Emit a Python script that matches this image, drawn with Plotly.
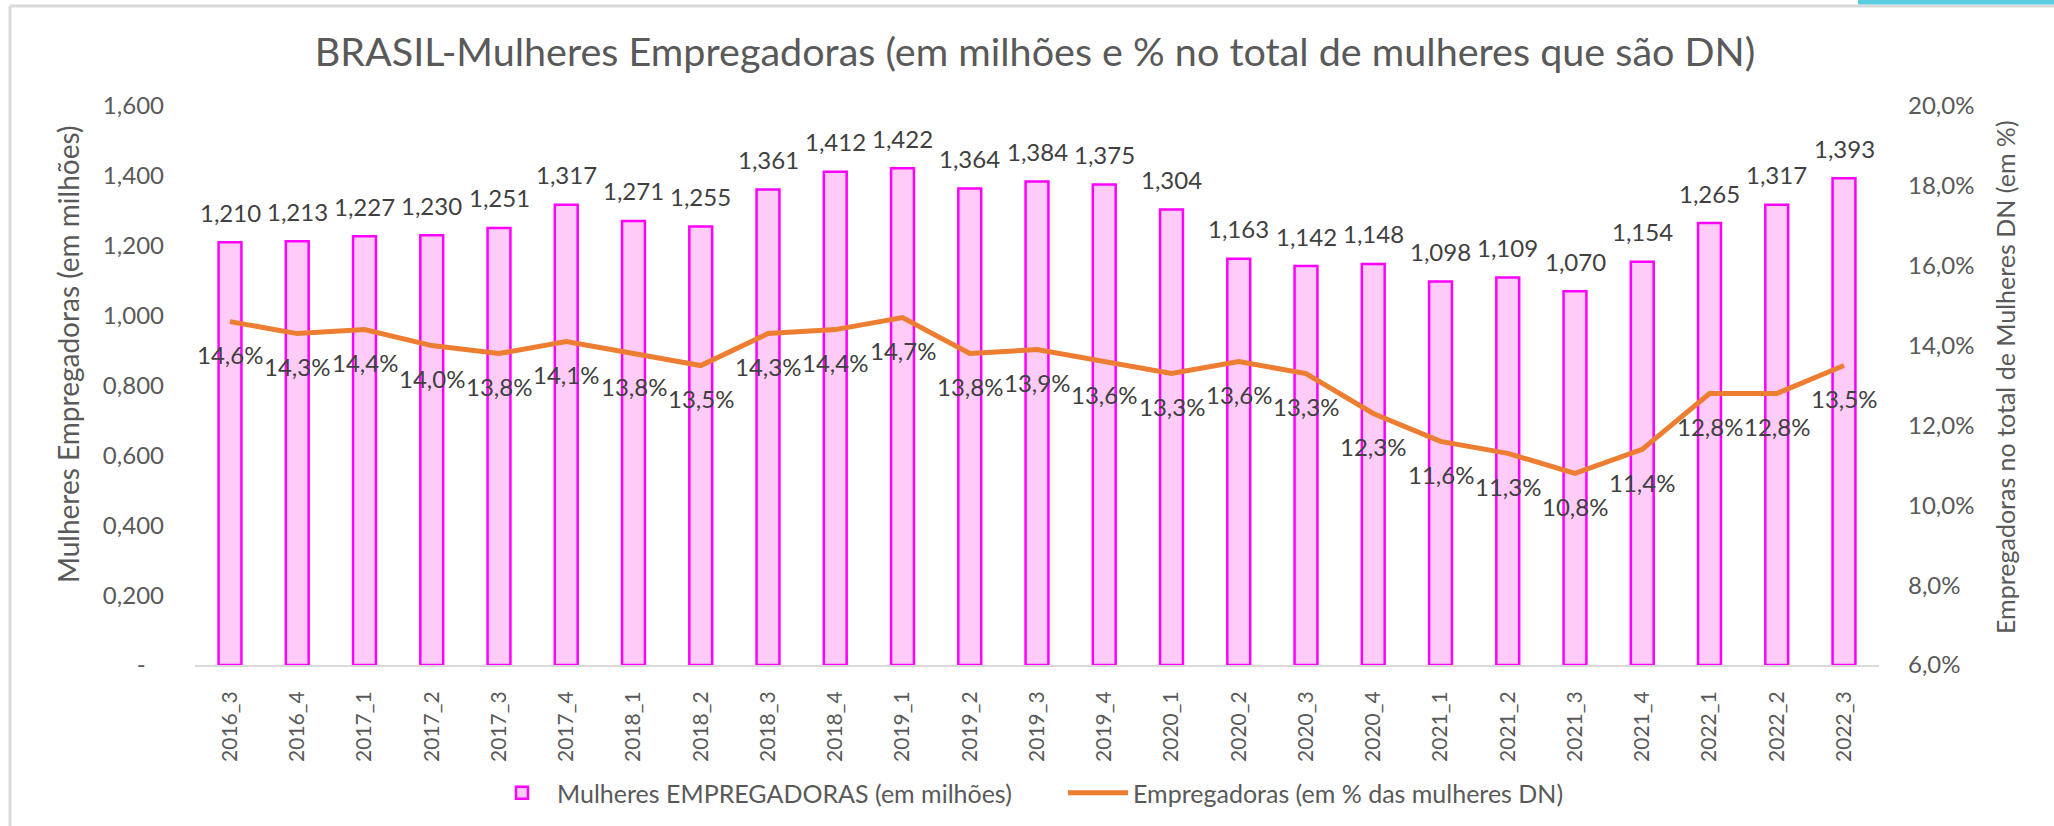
import plotly.graph_objects as go

categories = ["2016_3", "2016_4", "2017_1", "2017_2", "2017_3", "2017_4", "2018_1", "2018_2",
              "2018_3", "2018_4", "2019_1", "2019_2", "2019_3", "2019_4", "2020_1", "2020_2",
              "2020_3", "2020_4", "2021_1", "2021_2", "2021_3", "2021_4", "2022_1", "2022_2", "2022_3"]
empregadoras_milhoes = [1.210, 1.213, 1.227, 1.230, 1.251, 1.317, 1.271, 1.255, 1.361, 1.412, 1.422,
                        1.364, 1.384, 1.375, 1.304, 1.163, 1.142, 1.148, 1.098, 1.109, 1.070, 1.154,
                        1.265, 1.317, 1.393]
empregadoras_pct = [14.6, 14.3, 14.4, 14.0, 13.8, 14.1, 13.8, 13.5, 14.3, 14.4, 14.7, 13.8, 13.9,
                    13.6, 13.3, 13.6, 13.3, 12.3, 11.6, 11.3, 10.8, 11.4, 12.8, 12.8, 13.5]
left_ticks = [0, 0.2, 0.4, 0.6, 0.8, 1.0, 1.2, 1.4, 1.6]
right_ticks = [6, 8, 10, 12, 14, 16, 18, 20]

title_text = "BRASIL-Mulheres Empregadoras (em milhões e % no total de mulheres que são DN)"
bar_name = "Mulheres EMPREGADORAS (em milhões)"
line_name = "Empregadoras (em % das mulheres DN)"
left_title = "Mulheres Empregadoras (em milhões)"
right_title = "Empregadoras no total de Mulheres DN (em %)"

FONT = "Lato"
GREY = "#595959"
DARK = "#404040"

def fmt_m(v):
    return "-\u00a0\u00a0\u00a0" if v == 0 else f"{v:.3f}".replace(".", ",")

def fmt_p(v):
    return f"{v:.1f}%".replace(".", ",")

fig = go.Figure()
fig.add_trace(go.Bar(
    x=categories, y=empregadoras_milhoes, name=bar_name,
    marker=dict(color="#FFCCF7", line=dict(color="#FF00FF", width=2.5)),
    width=0.34, yaxis="y",
))
fig.add_trace(go.Scatter(
    x=categories, y=empregadoras_pct, name=line_name, mode="lines",
    line=dict(color="#ED7D31", width=5), yaxis="y2",
))

annotations = []
for c, v in zip(categories, empregadoras_milhoes):
    annotations.append(dict(x=c, y=v, xref="x", yref="y", text=f"{v:.3f}".replace(".", ","),
                            showarrow=False, yanchor="middle", yshift=30,
                            font=dict(family=FONT, size=24, color=DARK)))
for c, p in zip(categories, empregadoras_pct):
    annotations.append(dict(x=c, y=p, xref="x", yref="y2", text=fmt_p(p),
                            showarrow=False, yanchor="middle", yshift=-33,
                            font=dict(family=FONT, size=24, color=DARK)))

L, R, T, B = 195, 2054 - 1879, 106, 826 - 665
PW, PH = 2054 - L - R, 826 - T - B

def px_x(px):
    return (px - L) / PW

def px_y(py):
    return (826 - B - py) / PH

annotations.append(dict(x=px_x(68), y=px_y(355), xref="paper", yref="paper", text=left_title,
                        textangle=-90, showarrow=False, xanchor="center", yanchor="middle",
                        font=dict(family=FONT, size=28, color=GREY)))
annotations.append(dict(x=px_x(2005), y=px_y(377), xref="paper", yref="paper", text=right_title,
                        textangle=-90, showarrow=False, xanchor="center", yanchor="middle",
                        font=dict(family=FONT, size=25, color=GREY)))

shapes = [
    dict(type="line", xref="paper", yref="paper", x0=px_x(10), x1=px_x(10), y0=px_y(6), y1=px_y(830),
         line=dict(color="#D9D9D9", width=3)),
    dict(type="line", xref="paper", yref="paper", x0=px_x(10), x1=px_x(2060), y0=px_y(6), y1=px_y(6),
         line=dict(color="#D9D9D9", width=3)),
    dict(type="rect", xref="paper", yref="paper", x0=px_x(1858), x1=px_x(2060), y0=px_y(-2), y1=px_y(4.5),
         fillcolor="#5BCDE0", line=dict(width=0)),
]

fig.update_layout(
    width=2054, height=826,
    margin=dict(l=L, r=R, t=T, b=B, autoexpand=False),
    paper_bgcolor="white", plot_bgcolor="white",
    font=dict(family=FONT, color=GREY),
    title=dict(text=title_text, x=1035 / 2054, xanchor="center", y=1 - 52 / 826, yanchor="middle",
               font=dict(family=FONT, size=39.5, color=GREY)),
    xaxis=dict(type="category", showgrid=False, showline=True, linecolor="#D9D9D9", linewidth=2,
               tickangle=-90, tickfont=dict(family=FONT, size=21, color=GREY), ticks="",
               ticklabelstandoff=16),
    yaxis=dict(range=[0, 1.6], tickvals=left_ticks, ticktext=[fmt_m(v) for v in left_ticks],
               showgrid=False, zeroline=False, showline=False, ticks="",
               tickfont=dict(family=FONT, size=24, color=GREY), ticklabelstandoff=30),
    yaxis2=dict(range=[6, 20], tickvals=right_ticks, ticktext=[fmt_p(v) for v in right_ticks],
                overlaying="y", side="right", showgrid=False, zeroline=False, showline=False,
                ticks="", tickfont=dict(family=FONT, size=24, color=GREY), ticklabelstandoff=28),
    legend=dict(orientation="h", x=px_x(487), xanchor="left", y=px_y(793), yanchor="middle",
                font=dict(family=FONT, size=25, color=GREY), itemwidth=60, entrywidth=501,
                bgcolor="rgba(0,0,0,0)"),
    annotations=annotations,
    shapes=shapes,
    bargap=0.66,
)

fig.write_html("out.html", config={"displayModeBar": False},
               post_script="document.body.style.margin='0';document.body.style.overflow='hidden';")
